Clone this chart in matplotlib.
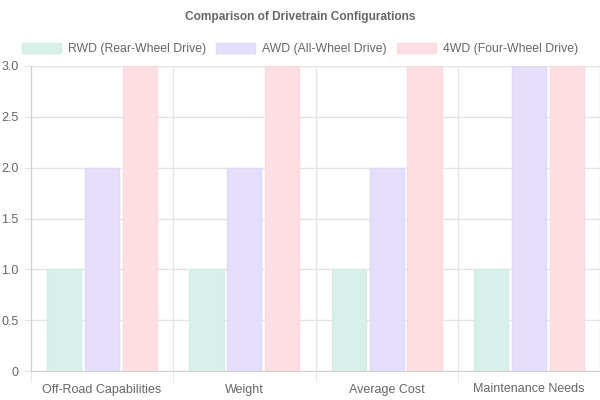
import numpy as np
import matplotlib.pyplot as plt
from matplotlib.patches import Patch

categories = ["Off-Road Capabilities", "Weight", "Average Cost", "Maintenance Needs"]
series_names = ["RWD (Rear-Wheel Drive)", "AWD (All-Wheel Drive)", "4WD (Four-Wheel Drive)"]
rwd = [1, 1, 1, 1]
awd = [2, 2, 2, 3]
fwd = [3, 3, 3, 3]
y_ticks = [0, 0.5, 1.0, 1.5, 2.0, 2.5, 3.0]
y_labels = ["0", "0.5", "1.0", "1.5", "2.0", "2.5", "3.0"]

colors = ["#d9f0ea", "#e6dffc", "#ffdfe4"]
edges = ["#d2ede6", "#e0d8fb", "#fdd9df"]
txt = "#666666"
grid = "#e4e4e4"

plt.rcParams['font.family'] = ['Liberation Sans', 'DejaVu Sans']

fig = plt.figure(figsize=(6, 4), dpi=100)
ax = fig.add_axes([31 / 600, 29 / 400, 569 / 600, 305 / 400])

x = np.arange(len(categories))
slot = 0.8 / 3
w = slot * 0.9
for i, vals in enumerate([rwd, awd, fwd]):
    ax.bar(x + (i - 1) * slot, vals, w, color=colors[i], edgecolor=edges[i],
           linewidth=1, zorder=2)

ax.set_xlim(-0.5, len(categories) - 0.5)
ax.set_ylim(0, 3)
ax.set_yticks(y_ticks)
ax.set_yticklabels(y_labels)
ax.set_xticks(x)
ax.set_xticklabels(categories)
ax.set_xticks(np.arange(-0.5, len(categories)), minor=True)
ax.tick_params(axis='x', which='major', length=0, pad=9, labelsize=9, labelcolor=txt)
ax.tick_params(axis='x', which='minor', length=8, color=grid)
ax.tick_params(axis='y', length=5, color=grid, pad=4, labelsize=9, labelcolor=txt)
ax.grid(axis='y', color=grid, linewidth=1, zorder=0)
ax.grid(axis='x', which='minor', color=grid, linewidth=1, zorder=0)
for s in ['top', 'right']:
    ax.spines[s].set_visible(False)
for s in ['left', 'bottom']:
    ax.spines[s].set_color("#cfcfcf")

fig.text(0.5, 1 - 17 / 400, "Comparison of Drivetrain Configurations", ha='center',
         va='center', fontsize=8.6, fontweight='bold', color=txt)

handles = [Patch(facecolor=colors[i], edgecolor=edges[i], label=series_names[i]) for i in range(3)]
leg = fig.legend(handles=handles, loc='center', bbox_to_anchor=(0.5, 1 - 49 / 400), ncol=3,
                 frameon=False, fontsize=8.8, handlelength=3.2, handleheight=0.95,
                 columnspacing=0.85, handletextpad=0.55)
for t in leg.get_texts():
    t.set_color(txt)

fig.savefig("out.png", dpi=100)
